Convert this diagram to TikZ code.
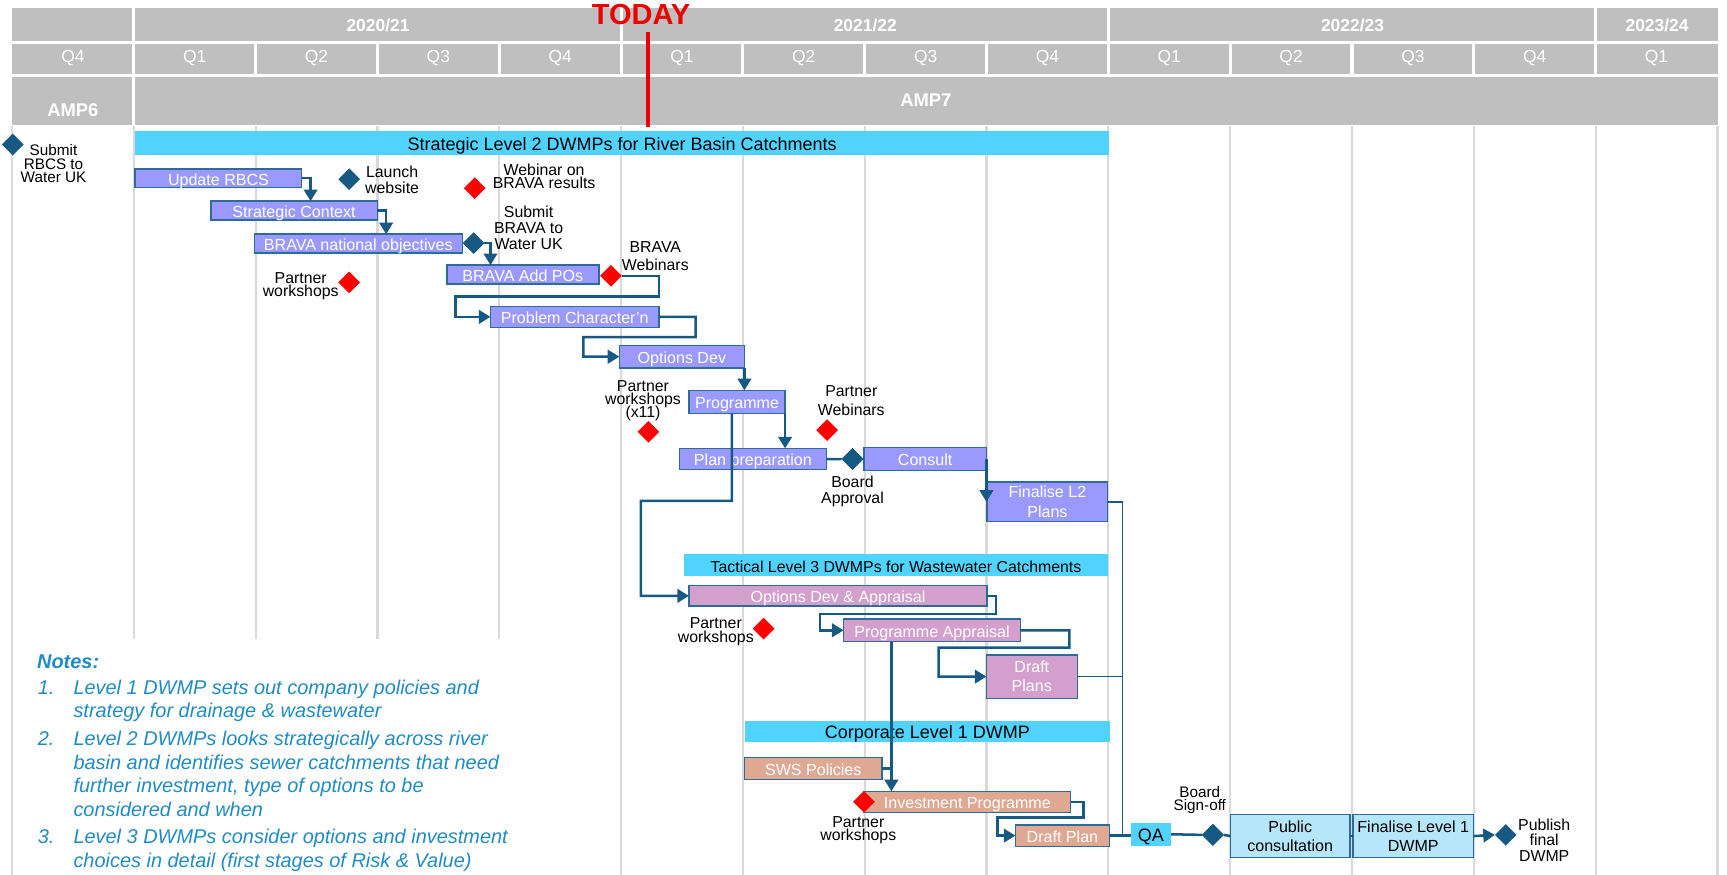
\documentclass[tikz,border=0pt]{standalone}
\usepackage{fontspec}
\setmainfont{Liberation Sans}
\usetikzlibrary{shapes.geometric,arrows.meta}
\definecolor{hgray}{RGB}{191,191,191}
\definecolor{gridc}{RGB}{217,217,217}
\definecolor{cyanbar}{RGB}{80,212,255}
\definecolor{taskb}{RGB}{153,153,255}
\definecolor{pinkb}{RGB}{211,160,205}
\definecolor{salmon}{RGB}{222,168,146}
\definecolor{lblue}{RGB}{182,230,250}
\definecolor{dkblue}{RGB}{22,90,132}
\definecolor{bordc}{RGB}{45,108,150}
\definecolor{notec}{RGB}{32,140,195}
\definecolor{todayred}{RGB}{235,0,0}
\newcommand\tlbox[7]{\node[#7, anchor=north west, minimum width={(#4-#2)*0.02cm}, minimum height={(#5-#3)*0.02cm}] (#1) at (#2,#3) {#6};}
\tikzset{
  bx/.style={draw=bordc, line width=0.7pt, inner sep=0pt, outer sep=0pt, align=center, text=white,
    font={\fontsize{8.3}{9.9}\selectfont\lineskiplimit=-20pt\relax}},
  one/.style={text height=0.72em, text depth=0pt},
  tsk/.style={bx, one, fill=taskb},
  tsk2/.style={bx, fill=taskb},
  pnk/.style={bx, one, fill=pinkb},
  pnk2/.style={bx, fill=pinkb},
  slm/.style={bx, one, fill=salmon},
  lbx/.style={bx, fill=lblue, text=black},
  bar/.style={fill=cyanbar, inner sep=0pt, outer sep=0pt, text=black, one, font=\fontsize{9.3}{11}\selectfont},
  qabox/.style={bar},
  dmd/.style={diamond, fill=dkblue, inner sep=0pt, outer sep=0pt, minimum width=11.2pt, minimum height=11.2pt},
  rdmd/.style={dmd, fill=red},
  lab/.style={align=center, inner sep=0pt, text=black, font={\fontsize{8.2}{#1}\selectfont\lineskiplimit=-20pt\relax}},
  lab/.default=8,
  con/.style={draw=dkblue, line width=1.3pt},
  thincon/.style={draw=dkblue, line width=0.9pt},
  arr/.style={con, -{Triangle[length=6pt,width=7pt]}},
  yr/.style={text=white, inner sep=0pt, font=\fontsize{9}{10}\selectfont\bfseries},
  ql/.style={text=white, inner sep=0pt, font=\fontsize{9}{10}\selectfont},
  note/.style={anchor=base west, inner sep=0pt, text=notec, font=\fontsize{10.3}{12}\selectfont\itshape},
}
\begin{document}
\begin{tikzpicture}[x=0.02cm, y=-0.02cm]
\useasboundingbox (0,0) rectangle (1568,794.4);
\fill[white] (0,0) rectangle (1568,794.4);
% header
\fill[hgray] (10.9,7) rectangle (1559.8,37.5);
\fill[hgray] (10.9,40) rectangle (1559.8,67.5);
\fill[hgray] (10.9,70) rectangle (1559.8,113.5);
\foreach \k in {1,5,9,13} \draw[white, line width=1.6pt] ({10.9+110.6*\k},6) -- ({10.9+110.6*\k},38);
\foreach \k in {1,2,3,4,5,6,7,8,9,10,11,12,13} \draw[white, line width=1.6pt] ({10.9+110.6*\k},39) -- ({10.9+110.6*\k},68);
\draw[white, line width=1.6pt] (121.5,69) -- (121.5,114);
\node[yr] (y20) at (343.2,23) {2020/21};
\node[yr] (y21) at (785.6,23) {2021/22};
\node[yr] (y22) at (1228,23) {2022/23};
\node[yr] (y23) at (1504.5,23) {2023/24};
\foreach \k/\q in {0/Q4,1/Q1,2/Q2,3/Q3,4/Q4,5/Q1,6/Q2,7/Q3,8/Q4,9/Q1,10/Q2,11/Q3,12/Q4,13/Q1}
  \node[ql] (q\k) at ({66.2+110.6*\k},53) {\q};
\node[yr, font=\fontsize{9.5}{10}\selectfont\bfseries] (amp6) at (66.2,100) {AMP6};
\node[yr, font=\fontsize{9.5}{10}\selectfont\bfseries] (amp7) at (840.6,91) {AMP7};
% grid
\foreach \k in {0,5,6,7,8,9,10,11,12,13,14} \draw[gridc, line width=1.1pt] ({10.9+110.6*\k},114.5) -- ({10.9+110.6*\k},794.4);
\foreach \k in {1,2,3,4} \draw[gridc, line width=1.1pt] ({10.9+110.6*\k},114.5) -- ({10.9+110.6*\k},580);
% today
\node[inner sep=0pt, text=todayred, font=\fontsize{15}{15}\selectfont\bfseries] (today) at (582,13) {TODAY};
\coordinate (todaybot) at (588.5,115);
\draw[todayred, line width=2.3pt] (588.5,29) -- (todaybot);
% level 2
\tlbox{sbar}{122.7}{119}{1007}{141}{Strategic Level 2 DWMPs for River Basin Catchments}{bar}
\tlbox{upd}{122.7}{153.3}{274}{170.2}{Update RBCS}{tsk}
\tlbox{stc}{191.5}{182.6}{342.5}{199.6}{Strategic Context}{tsk}
\tlbox{bno}{230.8}{212.6}{419.8}{229.8}{BRAVA national objectives}{tsk}
\tlbox{bap}{405.7}{240.7}{543.7}{258}{BRAVA Add POs}{tsk}
\tlbox{prc}{445.3}{278.2}{598.4}{297.2}{Problem Character’n}{tsk}
\tlbox{opd}{562.3}{313.7}{675.9}{334}{Options Dev}{tsk}
\tlbox{prg}{625.5}{354.3}{712.8}{375.4}{Programme}{tsk}
\tlbox{plp}{616.9}{407.1}{750.3}{426.4}{Plan preparation}{tsk}
\tlbox{cns}{784.4}{406.5}{895.6}{427}{Consult}{tsk}
\tlbox{fl2}{896.2}{437.6}{1005.7}{473.6}{Finalise L2\\Plans}{tsk2}
% level 3
\tlbox{tbar}{621}{503.4}{1006}{523}{Tactical Level 3 DWMPs for Wastewater Catchments}{bar, font=\fontsize{8.2}{10}\selectfont}
\tlbox{oda}{625.5}{531.8}{896.2}{550.2}{Options Dev \& Appraisal}{pnk}
\tlbox{pap}{765.9}{562}{926.5}{582.5}{Programme Appraisal}{pnk}
\tlbox{dps}{895.6}{594.6}{978}{634}{Draft\\Plans}{pnk2}
% level 1
\tlbox{cbar}{676}{654.6}{1007.9}{673.7}{Corporate Level 1 DWMP}{bar}
\tlbox{sws}{676}{687.9}{800.8}{707.9}{SWS Policies}{slm}
\tlbox{ipg}{784.4}{718.4}{972.2}{737.8}{Investment Programme}{slm}
\tlbox{dpl}{921.9}{749}{1007.3}{768.3}{Draft Plan}{slm}
\tlbox{qa}{1026.5}{746.9}{1063.3}{768}{QA}{qabox}
\tlbox{pub}{1117.1}{739.6}{1225.7}{778.6}{Public\\consultation}{lbx}
\tlbox{fl1}{1228.5}{739.6}{1337.7}{778.6}{Finalise Level 1\\DWMP}{lbx}
% milestones
\node[dmd] (srbcs) at (11.6,131.2) {};
\node[dmd] (launch) at (317,162.7) {};
\node[rdmd] (webres) at (431,170.8) {};
\node[dmd] (subbrava) at (430,220.7) {};
\node[rdmd] (pw1) at (317,256.4) {};
\node[rdmd] (bravaweb) at (554.7,250.4) {};
\node[rdmd] (pw2) at (588.7,392) {};
\node[rdmd] (pweb) at (751,390.5) {};
\node[dmd] (board) at (774,416.8) {};
\node[rdmd] (pw3) at (693.3,570.7) {};
\node[dmd] (signoff) at (1101.2,758) {};
\node[dmd] (publish) at (1367.1,758) {};
% connectors
\coordinate (jn) at (1019.2,758);
\draw[arr] (upd.east) -| (282,0 |- stc.north);
\draw[arr] (stc.east) -| (350.6,0 |- bno.north);
\draw[arr] (subbrava.east) -| (445.3,0 |- bap.north);
\draw[arr] (bravaweb.east) -| (598.5,269) -| (413.6,287.7) -- (prc.west);
\draw[arr] (prc.east) -| (631.6,306) -| (529.7,323.85) -- (opd.west);
\draw[arr] (opd.south east) -- (opd.south east |- prg.north);
\draw[arr] (prg.south east) -- (prg.south east |- plp.north);
\draw[arr] (664.5,0 |- prg.south) -- (664.5,454.8) -| (581.8,541) -- (oda.west);
\draw[con] (plp.east) -- (board.west);
\draw[con] (board.east) -- (cns.west);
\draw[arr] (cns.east) -- (cns.east |- fl2.west);
\draw[thincon] (fl2.east) -| (jn);
\draw[thincon] (dps.east) -- (1019.2,0 |- dps.east);
\draw[arr] (oda.east) -| (904.2,557.4) -| (744.4,572.25) -- (pap.west);
\draw[arr] (pap.east) -| (971,588) -| (852.1,614.3) -- (dps.west);
\draw[arr] (809.3,0 |- pap.south) -- (809.3,0 |- ipg.north);
\draw[con] (sws.east) -- (809.3,0 |- sws.east);
\draw[arr] (ipg.east) -| (983.6,742.3) -| (905.5,758.65) -- (dpl.west);
\draw[con] (dpl.east) -- (dpl.east -| qa.west);
\draw[con] (qa.east) -- (signoff.west);
\draw[con] (signoff.east) -- (pub.west);
\draw[con] (pub.east) -- (fl1.west);
\draw[arr] (fl1.east) -- (publish.west);
% diamonds on top of lines
\node[dmd] at (board) {};
\node[dmd] at (signoff) {};
\node[rdmd] (pw4) at (784.4,728) {};
% labels
\node[lab=7, font={\fontsize{7.9}{7}\selectfont\lineskiplimit=-20pt\relax}] (srbcsT) at (48.6,148.6) {Submit\\RBCS to\\Water UK};
\node[lab=8.1] (launchT) at (356,163) {Launch\\website};
\node[lab=6.8] (webresT) at (494,160.3) {Webinar on\\BRAVA results};
\node[lab=8.2] (subbravaT) at (480,207) {Submit\\BRAVA to\\Water UK};
\node[lab=6.8] (pw1T) at (273,259.5) {Partner\\workshops};
\node[lab=9.1] (bravawebT) at (595,232.4) {BRAVA\\Webinars};
\node[lab=6.8] (pw2T) at (583.8,364) {Partner\\workshops\\(x11)};
\node[lab=10] (pwebT) at (772.9,363.9) {Partner\\Webinars};
\node[lab=8.2] (boardT) at (774,446) {Board\\Approval};
\node[lab=7] (pw3T) at (649.9,573.6) {Partner\\workshops};
\node[lab=6.8] (pw4T) at (779.3,754.1) {Partner\\workshops};
\node[lab=7, font={\fontsize{7.9}{7}\selectfont\lineskiplimit=-20pt\relax}] (signoffT) at (1089.3,726.2) {Board\\Sign-off};
\node[lab=8] (publishT) at (1402,762.5) {Publish\\final\\DWMP};
% notes
\node[note, font=\fontsize{10.3}{12}\selectfont\bfseries\itshape] (notes) at (33.4,607) {Notes:};
\node[note] (n1) at (34,630.3) {1.};
\node[note] (l1) at (66.4,630.3) {Level 1 DWMP sets out company policies and};
\node[note] (l2) at (66.4,651.4) {strategy for drainage \& wastewater};
\node[note] (n2) at (34,677) {2.};
\node[note] (l3) at (66.4,677) {Level 2 DWMPs looks strategically across river};
\node[note] (l4) at (66.4,698.2) {basin and identifies sewer catchments that need};
\node[note] (l5) at (66.4,719.4) {further investment, type of options to be};
\node[note] (l6) at (66.4,741) {considered and when};
\node[note] (n3) at (34,766) {3.};
\node[note] (l7) at (66.4,766) {Level 3 DWMPs consider options and investment};
\node[note] (l8) at (66.4,787.3) {choices in detail (first stages of Risk \& Value)};
\end{tikzpicture}
\end{document}
